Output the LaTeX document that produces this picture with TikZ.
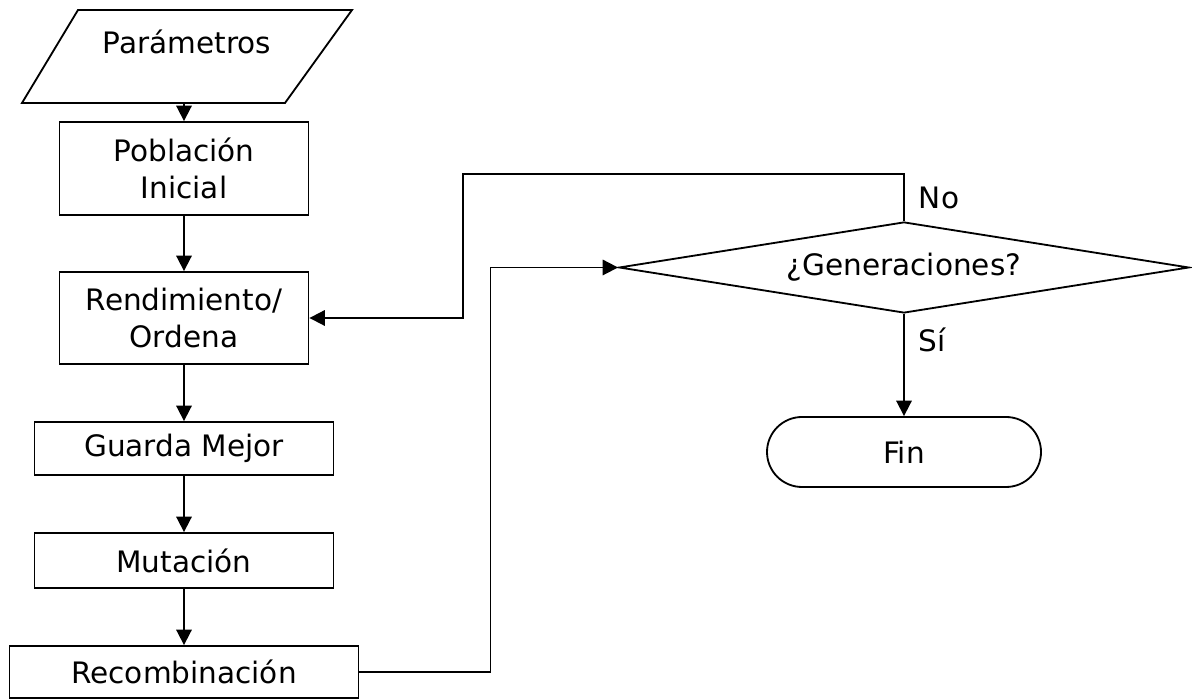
\documentclass[tikz,border=0pt]{standalone}
\usepackage{fontspec}
\setmainfont{DejaVu Sans}
\usetikzlibrary{shapes.geometric,arrows.meta}
\begin{document}
\begin{tikzpicture}[>={Triangle[width=11pt,length=11pt]},line width=1.3pt,
        every node/.style={font=\fontsize{21pt}{26.3pt}\selectfont},
        caja/.style={draw,inner sep=0pt,align=center},
        etiq/.style={right,inner sep=10pt}]
        \useasboundingbox (0,0) rectangle (29.8,17.475);
        \draw (1.95,17.225)--(8.8,17.225)--(7.125,14.9)--(.55,14.9)--cycle;
        \node (param) at (4.675,16.425){Parámetros};
        \coordinate (paramS) at (4.6,14.9);
        \node (pob) at (4.6,13.2625)[caja,minimum width=6.225cm,minimum height=2.325cm]{Población\\Inicial};
        \node (rend) at (4.6,9.525)[caja,minimum width=6.225cm,minimum height=2.3cm]{Rendimiento/\\Ordena};
        \node (guarda) at (4.6,6.2625)[caja,minimum width=7.475cm,minimum height=1.325cm]{Guarda Mejor};
        \node (mut) at (4.6,3.4625)[caja,minimum width=7.475cm,minimum height=1.375cm]{Mutación};
        \node (recomb) at (4.6,.675)[caja,minimum width=8.725cm,minimum height=1.3cm]{Recombinación};
        \node (gen) at (22.6,10.7875)[diamond,draw,aspect=6.26,inner sep=0pt,minimum width=14.25cm,minimum height=2.275cm]{¿Generaciones?};
        \node (fin) at (22.6,6.175)[draw,rounded corners=.875cm,minimum width=6.85cm,minimum height=1.75cm]{Fin};
        \draw[->] (paramS)--(pob.north);
        \draw[->] (pob)--(rend);
        \draw[->] (rend)--(guarda);
        \draw[->] (guarda)--(mut);
        \draw[->] (mut)--(recomb);
        \draw[->] (recomb.east)--++(3.275,0)|-(gen.west);
        \draw[->] (gen.north)|-node[pos=.25,etiq]{No}(11.575,13.125)|-(rend.east);
        \draw[->] (gen.south)--node[pos=.25,etiq]{Sí}(fin.north);
    \end{tikzpicture}
\end{document}
